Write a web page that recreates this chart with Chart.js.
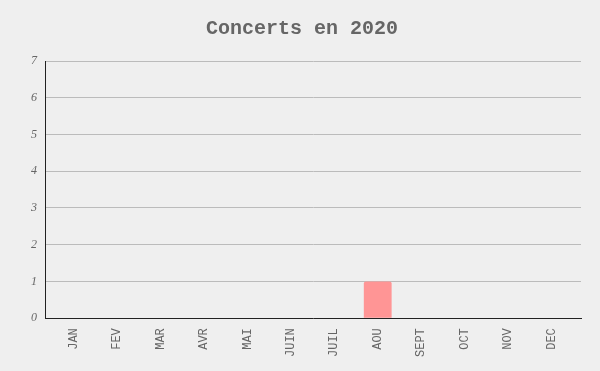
<!DOCTYPE html>
<html>
<head>
<meta charset="utf-8">
<script src="https://cdn.jsdelivr.net/npm/chart.js@4"></script>
<style>
    html, body { margin: 0; padding: 0; background: #efefef; }
    #wrap { width: 600px; height: 371px; }
</style>
</head>
<body>
<div id="wrap"><canvas id="chart" width="600" height="371"></canvas></div>
<script>
const months = ['JAN', 'FEV', 'MAR', 'AVR', 'MAI', 'JUIN', 'JUIL', 'AOU', 'SEPT', 'OCT', 'NOV', 'DEC'];
const concerts = [0, 0, 0, 0, 0, 0, 0, 1, 0, 0, 0, 0];
const yMax = 7;

// month index -> point, x axis is linear so the margins at both ends match the original
const points = concerts.map((value, i) => ({ x: i, y: value }));

const ctx = document.querySelector('#chart').getContext('2d');
new Chart(ctx, {
    type: 'bar',
    data: {
        datasets: [
            {
                label: 'Concerts',
                data: points,
                backgroundColor: '#ff9595',
                borderRadius: 2,
                borderSkipped: 'bottom',
                barPercentage: 0.8,
                categoryPercentage: 0.8,
            },
        ],
    },
    options: {
        responsive: false,
        animation: false,
        layout: { padding: { left: 23, right: 19, top: 0, bottom: 12 } },
        plugins: {
            legend: { display: false },
            tooltip: { enabled: false },
            title: {
                display: true,
                text: 'Concerts en 2020',
                color: '#666',
                font: { family: 'Liberation Mono', size: 20, weight: 'bold' },
                padding: { top: 17, bottom: 20 },
            },
        },
        scales: {
            x: {
                type: 'linear',
                offset: false,
                min: -0.66,
                max: months.length - 1 + 0.68,
                grid: { display: false, offset: false },
                border: { color: '#222', width: 1 },
                ticks: {
                    stepSize: 1,
                    includeBounds: false,
                    autoSkip: false,
                    color: '#666',
                    font: { family: 'Liberation Mono', size: 12 },
                    minRotation: 90,
                    maxRotation: 90,
                    padding: 2,
                    callback: (value) => months[value] ?? '',
                },
            },
            y: {
                min: 0,
                max: yMax,
                grid: { color: '#bbb', drawTicks: false },
                border: { color: '#222', width: 1 },
                ticks: {
                    stepSize: 1,
                    color: '#666',
                    padding: 8,
                    font: { family: 'Liberation Serif', size: 12, style: 'italic' },
                },
            },
        },
    },
});
</script>
</body>
</html>
